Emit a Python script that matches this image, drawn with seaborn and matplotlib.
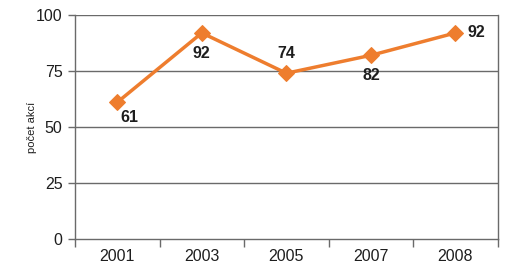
import matplotlib
matplotlib.use("Agg")
import matplotlib.pyplot as plt
import seaborn as sns
import pandas as pd
import numpy as np

roky = ["2001", "2003", "2005", "2007", "2008"]
pocet_akci = [61, 92, 74, 82, 92]

df = pd.DataFrame({"rok": roky, "pocet": pocet_akci})
df["pos"] = range(len(roky))

sns.set_style("white")
plt.rcParams["font.family"] = ["Liberation Sans", "DejaVu Sans"]

oranzova = "#EE7D2E"
seda = "#6A6A6A"
text_c = "#1E1E1E"
fs = 11.5

fig = plt.figure(figsize=(5.1, 2.73), dpi=100)
ax = fig.add_axes([0.147, 0.125, 0.829, 0.82])

for y in [25, 50, 75, 100]:
    ax.axhline(y, color=seda, lw=1.0, zorder=1)

sns.lineplot(data=df, x="pos", y="pocet", ax=ax, color=oranzova, lw=2.5,
             marker="D", markersize=8, markeredgecolor=oranzova, zorder=3)

# umisteni popisku (posun v bodech)
offsets = [(2, -11, "left"), (0, -15, "center"), (0, 14, "center"),
           (0, -14.5, "center"), (9, 0, "left")]
for (dx, dy, ha), x, v in zip(offsets, df["pos"], df["pocet"]):
    ax.annotate(str(v), (x, v), xytext=(dx, dy), textcoords="offset points",
                ha=ha, va="center", fontsize=fs, fontweight="bold",
                color=text_c)

ax.set_xlim(-0.5, len(roky) - 0.5)
ax.set_ylim(0, 100)
ax.set_yticks([0, 25, 50, 75, 100])
ax.set_xticks(df["pos"])
ax.set_xticklabels(roky)
ax.set_xticks(np.arange(-0.5, len(roky), 1.0), minor=True)
ax.tick_params(axis="x", which="major", bottom=False, length=0, pad=7,
               labelsize=fs, labelcolor=text_c)
ax.tick_params(axis="x", which="minor", bottom=True, length=6, width=1,
               color=seda, direction="out")
ax.tick_params(axis="y", left=True, length=5, width=1, color=seda,
               labelsize=fs, labelcolor=text_c, pad=4)

for s in ["left", "bottom", "right"]:
    ax.spines[s].set_color(seda)
    ax.spines[s].set_linewidth(1.0)
ax.spines["top"].set_visible(False)

ax.set_xlabel("")
ax.set_ylabel("počet akcí", fontsize=8, color=text_c)
ax.yaxis.set_label_coords(-0.09, 0.5)

fig.savefig("out.png", dpi=100, facecolor="white")
